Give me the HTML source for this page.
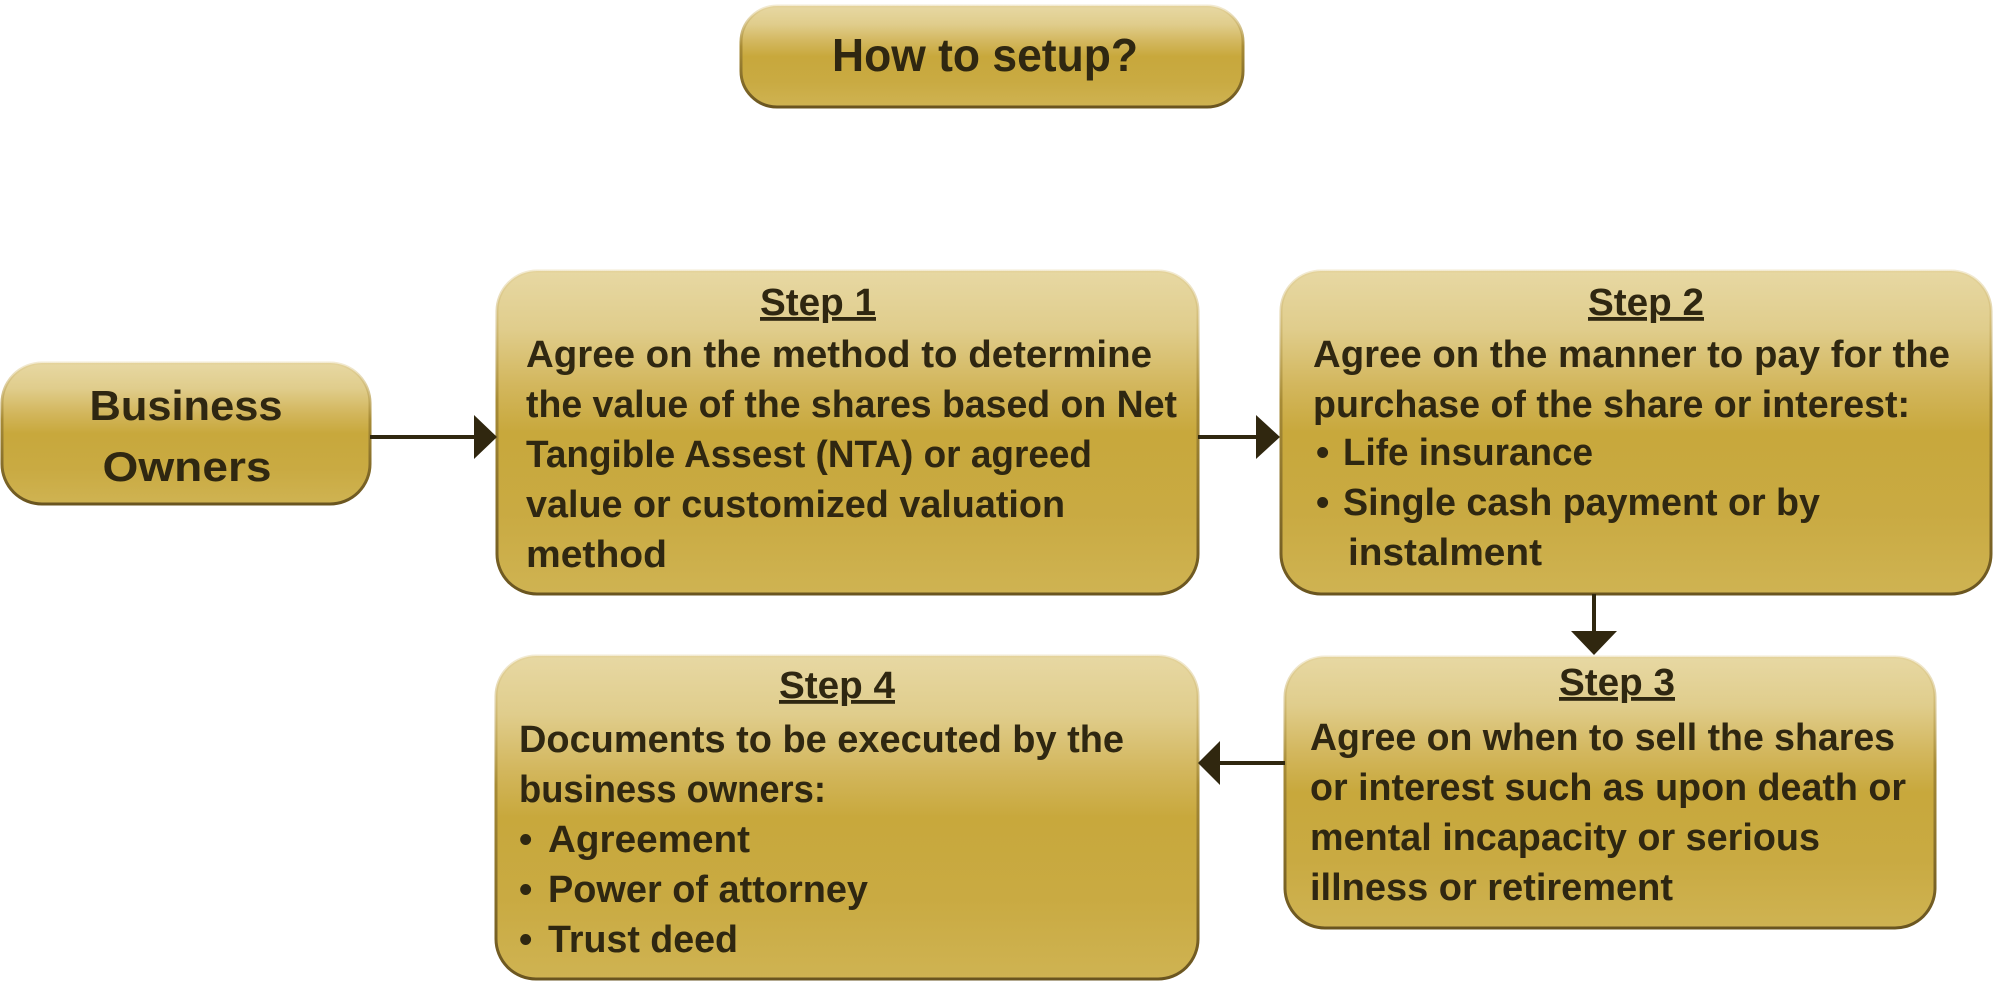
<!DOCTYPE html>
<html><head><meta charset="utf-8"><style>
html,body{margin:0;padding:0;background:#fff;}
svg{display:block}
text{font-family:"Liberation Sans",sans-serif;font-weight:bold;fill:#2f2711;}
</style></head><body>
<svg width="2000" height="981" viewBox="0 0 2000 981" xmlns="http://www.w3.org/2000/svg">
<defs>
<linearGradient id="g" x1="0" y1="0" x2="0" y2="1">
<stop offset="0" stop-color="#e7d8a3"/>
<stop offset="0.18" stop-color="#e0cd8c"/>
<stop offset="0.35" stop-color="#d3b75e"/>
<stop offset="0.5" stop-color="#c8a83c"/>
<stop offset="0.75" stop-color="#c9aa42"/>
<stop offset="1" stop-color="#cfb352"/>
</linearGradient>
<linearGradient id="s" x1="0" y1="0" x2="0" y2="1">
<stop offset="0" stop-color="#e0cc90" stop-opacity="0.4"/>
<stop offset="0.4" stop-color="#a88c36"/>
<stop offset="1" stop-color="#6a5520"/>
</linearGradient>
</defs>
<g stroke="url(#s)" stroke-width="3" fill="url(#g)">
<rect x="741" y="6" width="502" height="101" rx="36"/>
<rect x="2" y="363" width="368" height="141" rx="40"/>
<rect x="497" y="271" width="701" height="323" rx="40"/>
<rect x="1281" y="271" width="710" height="323" rx="40"/>
<rect x="1285" y="657" width="650" height="271" rx="40"/>
<rect x="496" y="656" width="702" height="323" rx="40"/>
</g>
<g fill="#30270f" stroke="#30270f">
<line x1="370" y1="437" x2="478" y2="437" stroke-width="4"/>
<polygon points="474,415 497,437 474,459" stroke="none"/>
<line x1="1198" y1="437" x2="1260" y2="437" stroke-width="4"/>
<polygon points="1256,415 1280,437 1256,459" stroke="none"/>
<line x1="1594" y1="594" x2="1594" y2="634" stroke-width="4"/>
<polygon points="1571,631 1617,631 1594,655" stroke="none"/>
<line x1="1285" y1="763" x2="1215" y2="763" stroke-width="4"/>
<polygon points="1220,741 1198,763 1220,785" stroke="none"/>
</g>
<text x="985" y="71" font-size="46" text-anchor="middle" textLength="306" lengthAdjust="spacingAndGlyphs">How to setup?</text>
<text x="186" y="420" font-size="42" text-anchor="middle" textLength="193" lengthAdjust="spacingAndGlyphs">Business</text>
<text x="187" y="481" font-size="42" text-anchor="middle" textLength="169" lengthAdjust="spacingAndGlyphs">Owners</text>
<g font-size="38">
<text x="818" y="315" text-anchor="middle" textLength="116" lengthAdjust="spacingAndGlyphs" text-decoration="underline">Step 1</text>
<text x="526" y="367" textLength="626" lengthAdjust="spacingAndGlyphs">Agree on the method to determine</text>
<text x="526" y="417" textLength="651" lengthAdjust="spacingAndGlyphs">the value of the shares based on Net</text>
<text x="526" y="467" textLength="566" lengthAdjust="spacingAndGlyphs">Tangible Assest (NTA) or agreed</text>
<text x="526" y="517" textLength="539" lengthAdjust="spacingAndGlyphs">value or customized valuation</text>
<text x="526" y="567" textLength="141" lengthAdjust="spacingAndGlyphs">method</text>

<text x="1646" y="315" text-anchor="middle" textLength="116" lengthAdjust="spacingAndGlyphs" text-decoration="underline">Step 2</text>
<text x="1313" y="367" textLength="637" lengthAdjust="spacingAndGlyphs">Agree on the manner to pay for the</text>
<text x="1313" y="417" textLength="597" lengthAdjust="spacingAndGlyphs">purchase of the share or interest:</text>
<text x="1316" y="465">•</text>
<text x="1343" y="465" textLength="250" lengthAdjust="spacingAndGlyphs">Life insurance</text>
<text x="1316" y="515">•</text>
<text x="1343" y="515" textLength="477" lengthAdjust="spacingAndGlyphs">Single cash payment or by</text>
<text x="1348" y="565" textLength="194" lengthAdjust="spacingAndGlyphs">instalment</text>

<text x="1617" y="695" text-anchor="middle" textLength="116" lengthAdjust="spacingAndGlyphs" text-decoration="underline">Step 3</text>
<text x="1310" y="750" textLength="585" lengthAdjust="spacingAndGlyphs">Agree on when to sell the shares</text>
<text x="1310" y="800" textLength="596" lengthAdjust="spacingAndGlyphs">or interest such as upon death or</text>
<text x="1310" y="850" textLength="510" lengthAdjust="spacingAndGlyphs">mental incapacity or serious</text>
<text x="1310" y="900" textLength="363" lengthAdjust="spacingAndGlyphs">illness or retirement</text>

<text x="837" y="698" text-anchor="middle" textLength="116" lengthAdjust="spacingAndGlyphs" text-decoration="underline">Step 4</text>
<text x="519" y="752" textLength="605" lengthAdjust="spacingAndGlyphs">Documents to be executed by the</text>
<text x="519" y="802" textLength="307" lengthAdjust="spacingAndGlyphs">business owners:</text>
<text x="519" y="852">•</text>
<text x="548" y="852" textLength="202" lengthAdjust="spacingAndGlyphs">Agreement</text>
<text x="519" y="902">•</text>
<text x="548" y="902" textLength="320" lengthAdjust="spacingAndGlyphs">Power of attorney</text>
<text x="519" y="952">•</text>
<text x="548" y="952" textLength="190" lengthAdjust="spacingAndGlyphs">Trust deed</text>
</g>
</svg>
</body></html>
